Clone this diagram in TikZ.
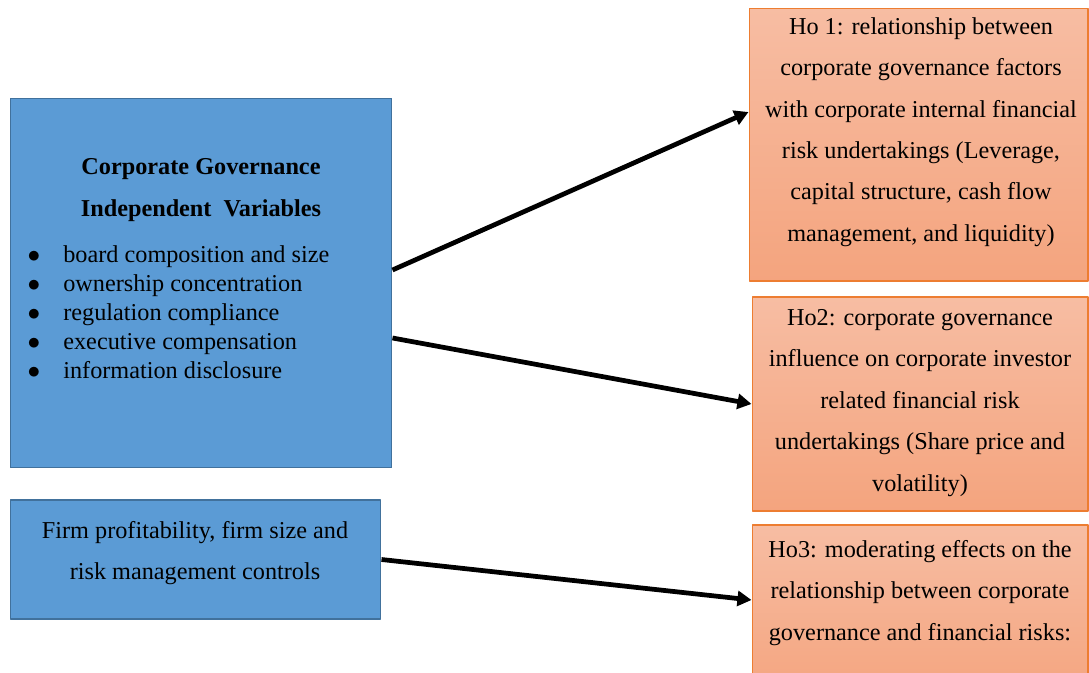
\documentclass[tikz,border=0pt]{standalone}
\usepackage{fontspec}
\setmainfont{Liberation Serif}
\usetikzlibrary{arrows.meta}
\definecolor{cgblue}{HTML}{5B9BD5}
\definecolor{cgedge}{HTML}{41719C}
\definecolor{hotop}{HTML}{F7BDA3}
\definecolor{hobot}{HTML}{F4A47E}
\definecolor{hoedge}{HTML}{ED7D31}
\begin{document}
\begin{tikzpicture}[x=0.02cm,y=-0.02cm,>={Triangle[length=8pt,width=8.5pt]},line join=round,
		varbox/.style={draw=cgedge,fill=cgblue,line width=0.6pt,inner sep=0pt},
		hobox/.style={draw=hoedge,top color=hotop,bottom color=hobot,line width=0.6pt,inner sep=0pt},
		boxtext/.style={align=center,inner sep=0pt,font=\fontsize{13.8}{23.6}\selectfont},
		link/.style={->,line width=2.7pt}]
	\useasboundingbox (0,0) rectangle (1089,673);
	\node[varbox,minimum width=7.64cm,minimum height=7.4cm] (corpgov) at (201,283) {};
	\node[varbox,minimum width=7.42cm,minimum height=2.38cm] (controls) at (195.5,559.5) {};
	\node[hobox,minimum width=6.78cm,minimum height=5.46cm] (hoone) at (918.5,144.5) {};
	\node[hobox,minimum width=6.72cm,minimum height=4.28cm] (hotwo) at (920,404) {};
	\node[hobox,minimum width=6.72cm,minimum height=3.5cm] (hothree) at (920,612.5) {};

	\node[boxtext,font=\bfseries\fontsize{13.8}{23.6}\selectfont] (corpgov-title) at (201,190) {Corporate Governance\\Independent\ \ Variables};
	\foreach \y/\t in {262/board composition and size,291/ownership concentration,320/regulation compliance,349/executive compensation,378/information disclosure}{
		\node[anchor=base,inner sep=0pt,font=\fontsize{13.8}{16}\selectfont] (bul-\y) at (34,\y) {$\bullet$};
		\node[anchor=base west,inner sep=0pt,font=\fontsize{13.8}{16}\selectfont] (item-\y) at (63,\y) {\t};
	}
	\node[boxtext] (controls-txt) at (195,553) {Firm profitability, firm size and\\risk management controls};
	\node[boxtext] (hoone-txt) at (921,132) {Ho 1: relationship between\\corporate governance factors\\with corporate internal financial\\risk undertakings (Leverage,\\capital structure, cash flow\\management, and liquidity)};
	\node[boxtext] (hotwo-txt) at (920,403) {Ho2: corporate governance\\influence on corporate investor\\related financial risk\\undertakings (Share price and\\volatility)};
	\node[boxtext] (hothree-txt) at (920,593) {Ho3: moderating effects on the\\relationship between corporate\\governance and financial risks:};

	\draw[link] ([yshift=0.26cm]corpgov.east) -- ([yshift=0.65cm]hoone.west);
	\draw[link] ([yshift=-1.1cm]corpgov.east) -- (hotwo.west);
	\draw[link] (controls.east) -- ([yshift=0.25cm]hothree.west);
\end{tikzpicture}
\end{document}
